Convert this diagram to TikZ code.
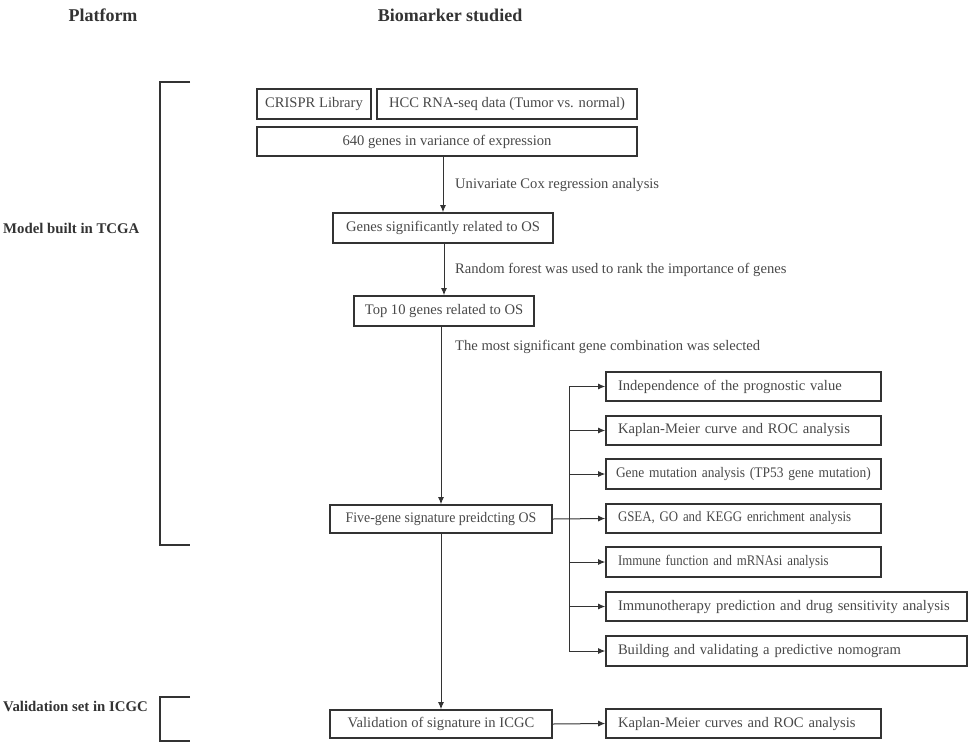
\documentclass[tikz,border=0pt]{standalone}
\usepackage{fontspec}
\setmainfont{Liberation Serif}
\newfontfamily\condfont[FakeStretch=0.88]{Liberation Serif}
\newfontfamily\semicondfont[FakeStretch=0.92]{Liberation Serif}
\usepackage{tikz}
\usetikzlibrary{arrows.meta}
\definecolor{boxgray}{HTML}{333333}
\definecolor{txtgray}{HTML}{484848}
\newcommand{\bodyfs}{\fontsize{14.6}{16}\selectfont}

\begin{document}
\begin{tikzpicture}[x=1pt,y=-1pt,
	box/.style={draw=boxgray, line width=1.6pt, text=txtgray, inner sep=0pt, font=\bodyfs},
	lbox/.style={box, align=left, inner xsep=12pt, text width=#1},
	note/.style={text=txtgray, anchor=west, inner sep=0pt, font=\bodyfs},
	head/.style={text=boxgray, inner sep=0pt, font=\fontsize{18}{20}\selectfont\bfseries},
	side/.style={text=boxgray, inner sep=0pt, anchor=west, font=\fontsize{14.8}{16}\selectfont\bfseries},
	arr/.style={draw=boxgray, line width=1pt, -{Latex[length=7pt,width=6pt]}},
	brk/.style={draw=boxgray, line width=1.8pt}]
	\useasboundingbox (0,0) rectangle (969,745);
	% headings
	\node[head] (hplat) at (103,15) {Platform};
	\node[head] (hbio) at (450,15) {Biomarker studied};
	\node[side] (tcga) at (3,228) {Model built in TCGA};
	\node[side] (icgc) at (3,706) {Validation set in ICGC};
	% brackets
	\draw[brk] (190,82) -- (160,82) -- (160,545) -- (190,545);
	\draw[brk] (190,697) -- (160,697) -- (160,741) -- (190,741);
	% main column
	\node[box, minimum width=114pt, minimum height=30pt] (crispr) at (314,104) {CRISPR Library};
	\node[box, minimum width=260pt, minimum height=30pt] (hcc) at (507,104) {HCC RNA-seq data (Tumor vs. normal)};
	\node[box, minimum width=380pt, minimum height=29pt] (genes) at (447,141.5) {640 genes in variance of expression};
	\node[box, minimum width=220pt, minimum height=30pt] (sigos) at (443,228) {Genes significantly related to OS};
	\node[box, minimum width=180pt, minimum height=30pt] (top) at (444,311) {Top 10 genes related to OS};
	\node[box, minimum width=222pt, minimum height=28pt] (five) at (441,519) {\addfontfeature{FakeStretch=0.95}Five-gene signature preidcting OS};
	\node[box, minimum width=222pt, minimum height=28pt] (valid) at (441,724) {Validation of signature in ICGC};
	\node[note] (lcox) at (455,185) {Univariate Cox regression analysis};
	\node[note] (lforest) at (455,270) {Random forest was used to rank the importance of genes};
	\node[note] (lcomb) at (455,347) {The most significant gene combination was selected};
	\draw[arr] (sigos.north |- genes.south) -- (sigos.north);
	\draw[arr] (sigos.south) -- (top.north |- sigos.south) -- (top.north);
	\draw[arr] (five.north |- top.south) -- (five.north);
	\draw[arr] (five.south) -- (valid.north);
	% analyses
	\node[lbox=251pt, minimum height=29pt] (ra) at (743.5,386.5) {Independence of the prognostic value};
	\node[lbox=251pt, minimum height=29pt] (rb) at (743.5,430.5) {Kaplan-Meier curve and ROC analysis};
	\node[lbox=255pt, minimum height=30pt, inner xsep=10pt] (rc) at (743.5,474) {\semicondfont Gene mutation analysis (TP53 gene mutation)};
	\node[lbox=251pt, minimum height=29pt] (rd) at (743.5,518.5) {\condfont GSEA, GO and KEGG enrichment analysis};
	\node[lbox=251pt, minimum height=30pt] (re) at (743.5,562) {\condfont Immune function and mRNAsi analysis};
	\node[lbox=337pt, minimum height=29pt] (rf) at (786.5,606.5) {Immunotherapy prediction and drug sensitivity analysis};
	\node[lbox=337pt, minimum height=30pt] (rg) at (786.5,651) {Building and validating a predictive nomogram};
	\node[lbox=251pt, minimum height=29pt] (rh) at (743.5,723.5) {Kaplan-Meier curves and ROC analysis};
	\coordinate (fork) at (569,519);
	\draw[boxgray, line width=1pt] (fork |- ra.west) -- (fork |- rg.west);
	\draw[arr] (five.east) -- (rd.west);
	\foreach \r in {ra,rb,rc,re,rf,rg}
		\draw[arr] (fork |- \r.west) -- (\r.west);
	\draw[arr] (valid.east) -- (rh.west);
\end{tikzpicture}
\end{document}
